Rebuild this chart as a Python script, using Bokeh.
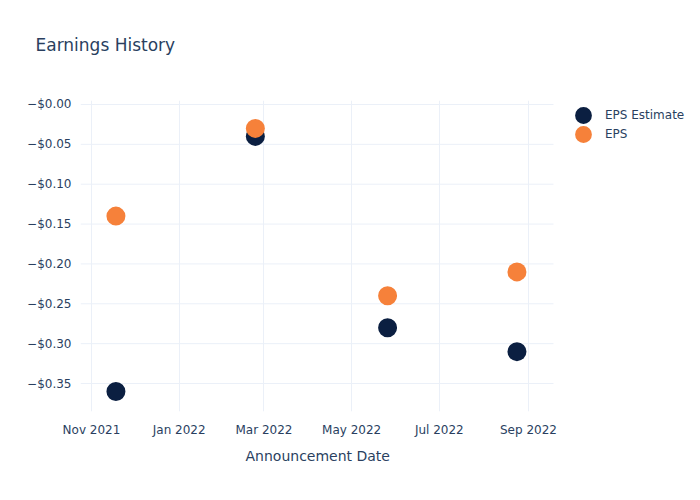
from datetime import datetime
from bokeh.plotting import figure
from bokeh.models import (ColumnDataSource, FixedTicker, DatetimeTickFormatter,
                          CustomJSTickFormatter, Legend, LegendItem, Range1d, Title)
from bokeh.embed import file_html
from bokeh.resources import INLINE

dates = ["2021-11-18", "2022-02-23", "2022-05-26", "2022-08-24"]
eps_estimate = [-0.36, -0.04, -0.28, -0.31]
eps_actual = [-0.14, -0.03, -0.24, -0.21]
x_tick_dates = ["2021-11-01", "2022-01-01", "2022-03-01", "2022-05-01", "2022-07-01", "2022-09-01"]
y_ticks = [0.0, -0.05, -0.10, -0.15, -0.20, -0.25, -0.30, -0.35]

DAY = 86400000.0

def ms(s):
    return (datetime.strptime(s, "%Y-%m-%d") - datetime(1970, 1, 1)).total_seconds() * 1000.0

src = ColumnDataSource(dict(x=[ms(d) for d in dates], est=eps_estimate, eps=eps_actual))

FONT = "DejaVu Sans"
TXT = "#2a3f5f"
GRID = "#ebf0f8"

base = ms("2021-11-01")
x0 = base - 7.65 * DAY
x_grid_end = base + 321.4 * DAY
x1 = base + 423.7 * DAY

p = figure(width=700, height=500, x_axis_type="datetime",
           output_backend="svg", toolbar_location=None,
           x_range=Range1d(x0, x1),
           y_range=Range1d(-0.3851, 0.005),
           min_border_left=80, min_border_right=0,
           min_border_top=100, min_border_bottom=89)
p.outline_line_color = None
p.background_fill_color = "white"

# white spacer between the title and the plotting area (closest to the frame)
spacer = Title(text=" ", text_font_size="1px", text_color="white", standoff=43)
p.add_layout(spacer, "above")

p.title.text = "Earnings History"
p.title.text_font = FONT
p.title.text_font_size = "17px"
p.title.text_font_style = "normal"
p.title.text_color = TXT
p.title.offset = -45
p.title.standoff = 0

# horizontal grid lines limited to the plotting area (legend sits to the right)
gsrc = ColumnDataSource(dict(y=y_ticks, xa=[x0] * len(y_ticks), xb=[x_grid_end] * len(y_ticks)))
p.segment(x0="xa", y0="y", x1="xb", y1="y", source=gsrc, line_color=GRID, line_width=1)

r1 = p.scatter("x", "est", source=src, size=19, color="#0b1f41", line_color=None)
r2 = p.scatter("x", "eps", source=src, size=19, color="#f6813a", line_color=None)

p.xaxis.ticker = FixedTicker(ticks=[ms(d) for d in x_tick_dates])
p.xaxis.formatter = DatetimeTickFormatter(months="%b %Y", days="%b %Y", years="%b %Y")
p.yaxis.ticker = FixedTicker(ticks=y_ticks)
p.yaxis.formatter = CustomJSTickFormatter(code="return '\u2212$' + Math.abs(tick).toFixed(2);")

for ax in (p.xaxis[0], p.yaxis[0]):
    ax.axis_line_color = None
    ax.major_tick_line_color = None
    ax.minor_tick_line_color = None
    ax.major_label_text_font = FONT
    ax.major_label_text_font_size = "12px"
    ax.major_label_text_color = TXT

p.xaxis.major_label_standoff = 5
p.yaxis.major_label_standoff = 3

p.xgrid.grid_line_color = GRID
p.ygrid.grid_line_color = None

xlabel = Title(text="Announcement Date", align="left", offset=165, standoff=12,
               text_font=FONT, text_font_size="14px", text_font_style="normal",
               text_color=TXT)
p.add_layout(xlabel, "below")

def make_legend(label, rend, ly):
    return Legend(items=[LegendItem(label=label, renderers=[rend])],
                  location=(482, ly), border_line_color=None,
                  label_text_font=FONT, label_text_font_size="12px",
                  label_text_color=TXT, glyph_height=42, glyph_width=42,
                  label_height=16, spacing=0, padding=0, margin=0,
                  label_standoff=1, background_fill_alpha=0)

p.add_layout(make_legend("EPS Estimate", r1, 275))
p.add_layout(make_legend("EPS", r2, 256))

open("out.html", "w").write(file_html(p, INLINE))
